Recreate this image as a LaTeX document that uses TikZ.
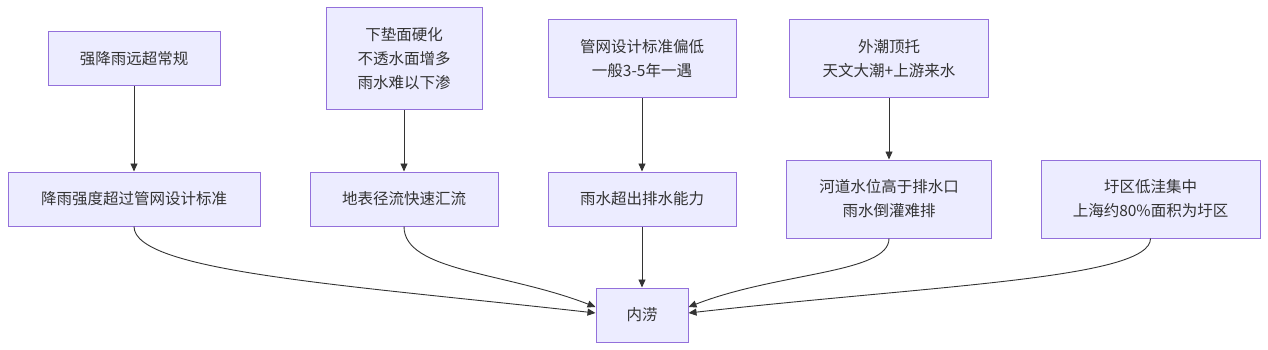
\documentclass[tikz,border=0pt]{standalone}
\usepackage{fontspec}
\setmainfont{Noto Sans CJK SC}
\usetikzlibrary{arrows.meta}
\definecolor{boxfill}{HTML}{ECECFF}
\definecolor{boxline}{HTML}{9370DB}
\definecolor{ink}{HTML}{333333}
\begin{document}
\begin{tikzpicture}[x=1pt,y=-1pt,
  box/.style={draw=boxline, fill=boxfill, line width=1pt, text=ink, align=center, inner sep=0pt, font=\fontsize{15.5}{24}\selectfont},
  link/.style={draw=ink, line width=0.9pt, -{Triangle[length=8pt,width=7pt]}}]
\useasboundingbox (0,0) rectangle (1268,350);
\node[box, minimum width=172pt, minimum height=54pt] (a1) at (134,59) {强降雨远超常规};
\node[box, minimum width=252pt, minimum height=54pt] (b1) at (134,199) {降雨强度超过管网设计标准};
\node[box, minimum width=156pt, minimum height=102pt] (a2) at (404,59) {下垫面硬化\\不透水面增多\\雨水难以下渗};
\node[box, minimum width=188pt, minimum height=54pt] (b2) at (404,199) {地表径流快速汇流};
\node[box, minimum width=188pt, minimum height=78pt] (a3) at (642,59) {管网设计标准偏低\\一般3-5年一遇};
\node[box, minimum width=188pt, minimum height=54pt] (b3) at (642,199) {雨水超出排水能力};
\node[box, minimum width=199pt, minimum height=78pt] (a4) at (889,59) {外潮顶托\\天文大潮+上游来水};
\node[box, minimum width=205pt, minimum height=78pt] (b4) at (889,199) {河道水位高于排水口\\雨水倒灌难排};
\node[box, minimum width=219pt, minimum height=78pt] (b5) at (1150.5,199) {圩区低洼集中\\上海约80\%面积为圩区};
\node[box, minimum width=92pt, minimum height=54pt] (c) at (642,315) {内涝};
\draw[link] (a1.south) -- (b1.north);
\draw[link] (a2.south) -- (b2.north);
\draw[link] (a3.south) -- (b3.north);
\draw[link] (a4.south) -- (b4.north);
\draw[link] (b3.south) -- (c.north);
\draw[link] (b1.south) .. controls +(0,45) and +(-250,-28) .. ([yshift=2pt]c.west);
\draw[link] (b2.south) .. controls +(0,45) and +(-90,-35) .. ([yshift=8pt]c.west);
\draw[link] (b4.south) .. controls +(0,35) and +(90,-35) .. ([yshift=8pt]c.east);
\draw[link] (b5.south) .. controls +(0,40) and +(250,-28) .. ([yshift=2pt]c.east);
\end{tikzpicture}
\end{document}
